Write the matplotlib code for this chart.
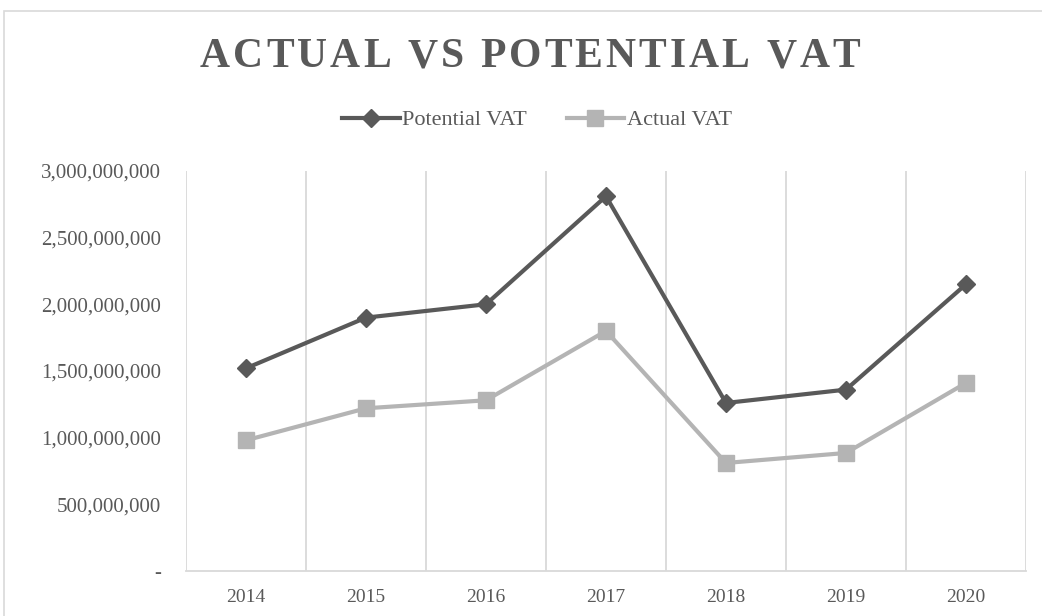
import numpy as np
import matplotlib.pyplot as plt
from matplotlib.patches import Rectangle
from matplotlib.ticker import FuncFormatter

# colours
c_pot = '#595959'
c_act = '#b4b4b4'
c_grid = '#d9d9d9'
c_text = '#595959'

years = ['2014', '2015', '2016', '2017', '2018', '2019', '2020']
potential_vat = [1.52e9, 1.90e9, 2.00e9, 2.81e9, 1.26e9, 1.36e9, 2.15e9]
actual_vat = [0.98e9, 1.22e9, 1.28e9, 1.80e9, 0.81e9, 0.885e9, 1.41e9]

plt.rcParams['font.family'] = ['Liberation Serif', 'DejaVu Serif']

fig = plt.figure(figsize=(10.42, 6.16), dpi=100)
ax = fig.add_axes([0.1785, 0.0731, 0.8061, 0.6494])

x = np.arange(len(years))
ax.plot(x, potential_vat, color=c_pot, lw=3, marker='D', ms=9,
        label='Potential VAT', zorder=3)
ax.plot(x, actual_vat, color=c_act, lw=3, marker='s', ms=11,
        label='Actual VAT', zorder=3)

ax.set_xlim(-0.5, len(years) - 0.5)
ax.set_ylim(0, 3e9)
ax.set_yticks(np.arange(0, 3.01e9, 5e8))
ax.yaxis.set_major_formatter(
    FuncFormatter(lambda v, p: '-' if v == 0 else f'{v:,.0f}'))
ax.set_xticks(x)
ax.set_xticklabels(years)
ax.set_xticks(np.arange(-0.5, len(years)), minor=True)
ax.grid(True, which='minor', axis='x', color=c_grid, lw=1.3)
ax.tick_params(which='both', length=0)
ax.tick_params(axis='y', pad=18, labelsize=15, labelcolor=c_text)
ax.tick_params(axis='x', pad=13, labelsize=14, labelcolor=c_text)

for s in ['left', 'right', 'top']:
    ax.spines[s].set_visible(False)
ax.spines['bottom'].set_color(c_grid)
ax.spines['bottom'].set_linewidth(1.3)

# outer chart frame
fig.patches.append(Rectangle((4 / 1042, -0.1), 1.2, 1.1 - 11 / 616,
                             transform=fig.transFigure, fill=False,
                             ec='#d9d9d9', lw=1.2))

# letter-spaced title
title = 'ACTUAL VS POTENTIAL VAT'
renderer = fig.canvas.get_renderer()
kw = dict(fontsize=30, fontweight='bold', color=c_text, va='center')
widths = []
for ch in title:
    t = fig.text(0, 0, ch if ch != ' ' else 'n', **kw)
    w = t.get_window_extent(renderer).width
    widths.append(w * 0.45 if ch == ' ' else w)
    t.remove()
target = 660
gap = (target - sum(widths)) / (len(title) - 1)
xpos = 530 - target / 2
for ch, w in zip(title, widths):
    if ch != ' ':
        fig.text(xpos / 1042, 1 - 57 / 616, ch, ha='left', **kw)
    xpos += w + gap

leg = fig.legend(loc='center', bbox_to_anchor=(0.515, 1 - 120 / 616), ncol=2,
                 frameon=False, fontsize=16, handlelength=2.6,
                 handletextpad=0.1, columnspacing=1.8)
for t in leg.get_texts():
    t.set_color(c_text)

plt.savefig('out.png', dpi=100)
